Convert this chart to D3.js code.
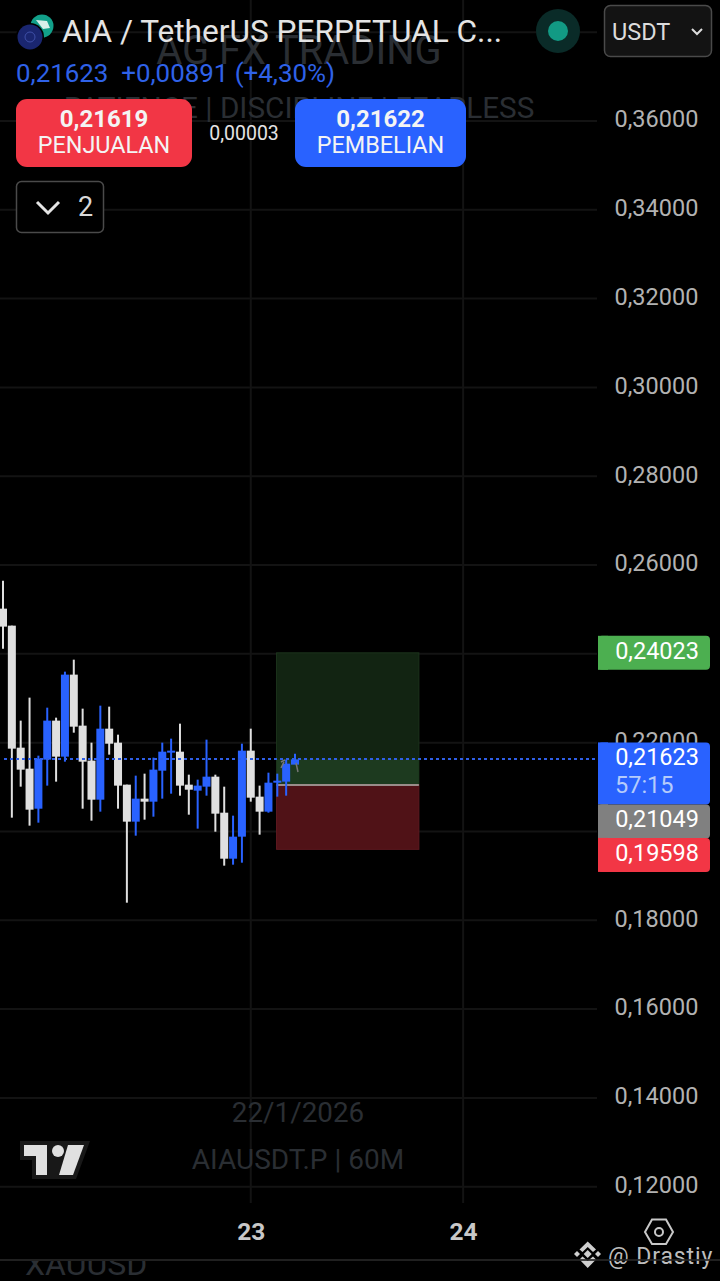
<!DOCTYPE html>
<html>
<head>
<meta charset="utf-8">
<script src="https://cdn.jsdelivr.net/npm/d3@7"></script>
<style>
  html, body { margin: 0; padding: 0; background: #000; }
  svg { display: block; }
  text { font-family: Roboto, sans-serif; }
</style>
</head>
<body>
<div id="chart"></div>
<script>
// hourly candles, first one is 21 Jan 20:00
const firstCandle = "2026-01-21T20:00:00Z";
const opens = [0.25018, 0.24635, 0.21887, 0.21414, 0.20513, 0.21617, 0.22496, 0.21685, 0.23532, 0.22383, 0.21595, 0.20716, 0.22315, 0.22000, 0.21054, 0.20221, 0.20739, 0.20671, 0.21369, 0.21775, 0.21797, 0.21054, 0.20919, 0.21009, 0.21234, 0.20423, 0.19387, 0.19883, 0.21820, 0.20784, 0.20446, 0.21099, 0.21122, 0.21505];
const highs = [0.25649, 0.24635, 0.22496, 0.23014, 0.21707, 0.22788, 0.22563, 0.23599, 0.23869, 0.22766, 0.22000, 0.22833, 0.22811, 0.22180, 0.21054, 0.21257, 0.21302, 0.21662, 0.22000, 0.22090, 0.22428, 0.21279, 0.21167, 0.22068, 0.21279, 0.21009, 0.20356, 0.21977, 0.22315, 0.21032, 0.21324, 0.21302, 0.21617, 0.21752];
const lows = [0.24117, 0.20311, 0.21009, 0.20131, 0.20198, 0.21032, 0.21122, 0.21572, 0.22225, 0.20513, 0.20243, 0.20446, 0.21730, 0.20513, 0.18396, 0.19905, 0.20266, 0.20333, 0.20739, 0.20851, 0.20806, 0.20378, 0.20063, 0.20806, 0.19995, 0.19230, 0.19252, 0.19297, 0.20671, 0.19928, 0.20423, 0.20784, 0.20806, 0.21550];
const closes = [0.24613, 0.21865, 0.21392, 0.20491, 0.21640, 0.22496, 0.21685, 0.23532, 0.22360, 0.21572, 0.20716, 0.22315, 0.21977, 0.21032, 0.20221, 0.20739, 0.20671, 0.21392, 0.21797, 0.21820, 0.21032, 0.20941, 0.21032, 0.21234, 0.20401, 0.19387, 0.19883, 0.21820, 0.20761, 0.20446, 0.21099, 0.21144, 0.21527, 0.21623];

const priceTicks = [0.12, 0.14, 0.16, 0.18, 0.20, 0.22, 0.24, 0.26, 0.28, 0.30, 0.32, 0.34, 0.36, 0.38];
const dayTicks = ["2026-01-23T00:00:00Z", "2026-01-24T00:00:00Z"];

const lastPrice = 0.21623;
const entryPrice = 0.21049;
const targetPrice = 0.24023;
const stopPrice = 0.19598;
const positionTimes = ["2026-01-23T02:55:00Z", "2026-01-23T19:00:00Z"];

const tagTexts = ["0,24023", "0,21623", "0,21049", "0,19598"];
const tagValues = [targetPrice, lastPrice, entryPrice, stopPrice];
const tagColors = ["#4caf50", "#2962ff", "#808080", "#f23645"];
const countdown = "57:15";

const width = 720, height = 1281;
const plotRight = 597;
const white = "#e0e0e0", blue = "#2962ff", faint = "#2a2e33";

const locale = d3.formatLocale({ decimal: ",", thousands: ".", grouping: [3], currency: ["", ""] });
const fmtPrice = locale.format(".5f");

const t0 = new Date(firstCandle);
const hour = 3600000;
const candles = opens.map((o, i) => ({
  t: new Date(t0.getTime() + i * hour), o: o, h: highs[i], l: lows[i], c: closes[i]
}));

const x = d3.scaleUtc().domain([t0, candles[candles.length - 1].t]).range([3, 295]);
const y = d3.scaleLinear().domain([0.12, 0.36]).range([1186.7, 121]);

const svg = d3.select("#chart").append("svg").attr("width", width).attr("height", height);
svg.append("rect").attr("width", width).attr("height", height).attr("fill", "#000");

// grid
svg.append("g").selectAll("line").data(priceTicks).join("line")
  .attr("x1", 0).attr("x2", plotRight)
  .attr("y1", d => y(d)).attr("y2", d => y(d))
  .attr("stroke", "#131313").attr("stroke-width", 2);
svg.append("g").selectAll("line").data(dayTicks).join("line")
  .attr("x1", d => x(new Date(d))).attr("x2", d => x(new Date(d)))
  .attr("y1", 0).attr("y2", 1203)
  .attr("stroke", "#131313").attr("stroke-width", 2);

// watermarks
function faintText(txt, px, py, size, anchor) {
  return svg.append("text").attr("x", px).attr("y", py).attr("text-anchor", anchor || "middle")
    .attr("font-size", size).attr("fill", faint).text(txt);
}
faintText("AG FX TRADING", 299, 64, 39.8);
faintText("PATIENCE  |  DISCIPLINE  |  FEARLESS", 299, 118, 29.7);
faintText("22/1/2026", 298, 1122, 27.8);
faintText("AIAUSDT.P | 60M", 298, 1169, 28);

// position box
const boxX = x(new Date(positionTimes[0]));
const boxW = x(new Date(positionTimes[1])) - boxX;
svg.append("rect").attr("x", boxX).attr("width", boxW)
  .attr("y", y(targetPrice)).attr("height", y(entryPrice) - y(targetPrice))
  .attr("fill", "#122412").attr("stroke", "#1c331c");
svg.append("rect").attr("x", boxX).attr("width", boxW)
  .attr("y", y(lastPrice)).attr("height", y(entryPrice) - y(lastPrice))
  .attr("fill", "#1d3a1f");
svg.append("rect").attr("x", boxX).attr("width", boxW)
  .attr("y", y(entryPrice)).attr("height", y(stopPrice) - y(entryPrice))
  .attr("fill", "#501217").attr("stroke", "#5e1a20");
svg.append("line").attr("x1", boxX).attr("x2", boxX + boxW)
  .attr("y1", y(entryPrice)).attr("y2", y(entryPrice))
  .attr("stroke", "#9a8c8a").attr("stroke-width", 2);

// candles
const colorOf = d => d.c >= d.o ? blue : white;
const g = svg.append("g");
g.selectAll("line").data(candles).join("line")
  .attr("x1", d => x(d.t)).attr("x2", d => x(d.t))
  .attr("y1", d => y(d.h)).attr("y2", d => y(d.l))
  .attr("stroke", colorOf).attr("stroke-width", 2);
g.selectAll("rect").data(candles).join("rect")
  .attr("x", d => x(d.t) - 4).attr("width", 8)
  .attr("y", d => y(Math.max(d.o, d.c)))
  .attr("height", d => Math.max(2, Math.abs(y(d.o) - y(d.c))))
  .attr("fill", colorOf);

// little grey arrow on the last candles
svg.append("path")
  .attr("d", "M281,762L285,760M296,763L298,772M281,768L284,762")
  .attr("stroke", "#777").attr("stroke-width", 1.5).attr("fill", "none");

// last price line
svg.append("line").attr("x1", 4).attr("x2", plotRight)
  .attr("y1", Math.round(y(lastPrice))).attr("y2", Math.round(y(lastPrice)))
  .attr("stroke", "#2f5fe8").attr("stroke-width", 2).attr("stroke-dasharray", "3 3")
  .attr("shape-rendering", "crispEdges");

// price axis
const yAxis = svg.append("g").attr("transform", "translate(599,0)")
  .call(d3.axisRight(y).tickValues(priceTicks).tickFormat(fmtPrice).tickSize(0).tickPadding(15.5));
yAxis.select(".domain").remove();
yAxis.selectAll("text").attr("font-size", 23.5).attr("fill", "#b2b2b2")
  .attr("font-family", "Roboto, sans-serif").attr("dy", "0.25em");

// day axis
const xAxis = svg.append("g").attr("transform", "translate(0,1219)")
  .call(d3.axisBottom(x).tickValues(dayTicks.map(d => new Date(d))).tickFormat(d3.utcFormat("%d")).tickSize(0).tickPadding(0));
xAxis.select(".domain").remove();
xAxis.selectAll("text").attr("font-size", 24.5).attr("font-weight", 700).attr("fill", "#c8c8c8")
  .attr("font-family", "Roboto, sans-serif").attr("dy", "0.85em");

// price tags, pushed down when they collide
let prevBottom = -Infinity;
tagValues.forEach((v, i) => {
  const h = i === 1 ? 62 : 34;
  const top = Math.max(y(v) - 17, prevBottom);
  prevBottom = top + (i === 1 ? 62 : 33.5);
  svg.append("rect").attr("x", 598).attr("y", top).attr("width", 112).attr("height", h)
    .attr("rx", 4).attr("fill", tagColors[i]);
  svg.append("rect").attr("x", 598).attr("y", top).attr("width", 10).attr("height", h)
    .attr("fill", tagColors[i]);
  svg.append("text").attr("x", 699).attr("y", top + 23).attr("text-anchor", "end")
    .attr("font-size", 23.5).attr("fill", "#fff").text(tagTexts[i]);
  if (i === 1) {
    svg.append("text").attr("x", 615).attr("y", top + 51)
      .attr("font-size", 23.5).attr("fill", "#b5cbfb").text(countdown);
  }
});

// header
svg.append("circle").attr("cx", 42).attr("cy", 26).attr("r", 11.5).attr("fill", "#12a08a");
svg.append("path").attr("d", "M36,20L47,21L50,28L43,29Z").attr("fill", "#d8efe9");
svg.append("circle").attr("cx", 30).attr("cy", 37).attr("r", 14).attr("fill", "#000");
svg.append("circle").attr("cx", 30).attr("cy", 37).attr("r", 12.5).attr("fill", "#1a2670");
svg.append("circle").attr("cx", 30).attr("cy", 37).attr("r", 5).attr("fill", "none").attr("stroke", "#3f50a8");

svg.append("text").attr("x", 62).attr("y", 42).attr("font-size", 31.6).attr("fill", "#e4e4e4")
  .text("AIA / TetherUS PERPETUAL C...");
svg.append("text").attr("x", 16).attr("y", 82).attr("font-size", 25.9).attr("fill", "#2f62e8")
  .attr("xml:space", "preserve").text("0,21623  +0,00891 (+4,30%)");

svg.append("circle").attr("cx", 558).attr("cy", 31).attr("r", 22).attr("fill", "#0a2b28");
svg.append("circle").attr("cx", 558).attr("cy", 31).attr("r", 10).attr("fill", "#129a84");

svg.append("rect").attr("x", 604.5).attr("y", 5.5).attr("width", 107).attr("height", 51).attr("rx", 6)
  .attr("fill", "#131313").attr("stroke", "#4a4a4a").attr("stroke-width", 1.5);
svg.append("text").attr("x", 612).attr("y", 40).attr("font-size", 23.5).attr("fill", "#dcdcdc").text("USDT");
svg.append("path").attr("d", "M692,29L697,34L702,29").attr("fill", "none").attr("stroke", "#dcdcdc").attr("stroke-width", 2);

// sell / buy
function tradeButton(bx, bw, color, price, label) {
  svg.append("rect").attr("x", bx).attr("y", 99).attr("width", bw).attr("height", 68).attr("rx", 11).attr("fill", color);
  svg.append("text").attr("x", bx + bw / 2).attr("y", 127).attr("text-anchor", "middle")
    .attr("font-size", 24).attr("font-weight", 700).attr("fill", "#f4f4f4").text(price);
  svg.append("text").attr("x", bx + bw / 2).attr("y", 153).attr("text-anchor", "middle")
    .attr("font-size", 23.4).attr("fill", "#f4f4f4").text(label);
}
tradeButton(16, 176, "#f23645", "0,21619", "PENJUALAN");
tradeButton(295, 171, "#2962ff", "0,21622", "PEMBELIAN");
svg.append("text").attr("x", 244).attr("y", 140).attr("text-anchor", "middle")
  .attr("font-size", 19.5).attr("fill", "#e4e4e4").text("0,00003");

svg.append("rect").attr("x", 16.5).attr("y", 181.5).attr("width", 87).attr("height", 51).attr("rx", 5)
  .attr("fill", "#000").attr("stroke", "#4a4a4a").attr("stroke-width", 1.5);
svg.append("path").attr("d", "M37,202L48,213L59,202").attr("fill", "none").attr("stroke", "#e4e4e4").attr("stroke-width", 3);
svg.append("text").attr("x", 78).attr("y", 216).attr("font-size", 27).attr("fill", "#d8d8d8").text("2");

// tradingview logo
svg.append("path").attr("d", "M20,1141H90L76,1179H32V1160H20Z").attr("fill", "#181818");
const logo = svg.append("g").attr("fill", "#e0e0e0");
logo.append("path").attr("d", "M24,1145H47V1175H36V1156H24Z");
logo.append("path").attr("d", "M68,1145H84L73,1175H59Z");
logo.append("circle").attr("cx", 58).attr("cy", 1151).attr("r", 6);

// hex settings icon
svg.append("path").attr("d", "M645,1232L652,1219.5H666L673,1232L666,1244H652Z")
  .attr("fill", "none").attr("stroke", "#c8c8c8").attr("stroke-width", 2);
svg.append("circle").attr("cx", 659).attr("cy", 1232).attr("r", 4)
  .attr("fill", "none").attr("stroke", "#c8c8c8").attr("stroke-width", 2);

// bottom strip
const clip = svg.append("clipPath").attr("id", "strip");
clip.append("rect").attr("x", 0).attr("y", 1261).attr("width", width).attr("height", 20);
faintText("XAUUSD", 25, 1275, 32, "start").attr("clip-path", "url(#strip)");

// binance mark + handle
const bn = svg.append("g").attr("fill", "#cfcfcf");
bn.append("path").attr("d", "M587.7,1241.5L596,1249.5L593,1252L587.7,1247L582.5,1252L579.5,1249.5Z");
bn.append("path").attr("d", "M587.7,1250L591.7,1254L587.7,1258L583.7,1254Z");
bn.append("path").attr("d", "M577,1251L580,1254L577,1257L574,1254Z");
bn.append("path").attr("d", "M598,1251L601,1254L598,1257L595,1254Z");
bn.append("path").attr("d", "M582.5,1256.5L587.7,1261L593,1256.5L596,1259.5L587.7,1268L579.5,1259.5Z");
svg.append("text").attr("x", 608).attr("y", 1264).attr("font-size", 23).attr("fill", "#bdbdbd")
  .attr("letter-spacing", 0.9).attr("xml:space", "preserve").text("@ Drastiy");
svg.append("line").attr("x1", 0).attr("x2", width).attr("y1", 1260).attr("y2", 1260)
  .attr("stroke", "#262626").attr("stroke-width", 2).attr("stroke-opacity", 0.85);
</script>
</body>
</html>
